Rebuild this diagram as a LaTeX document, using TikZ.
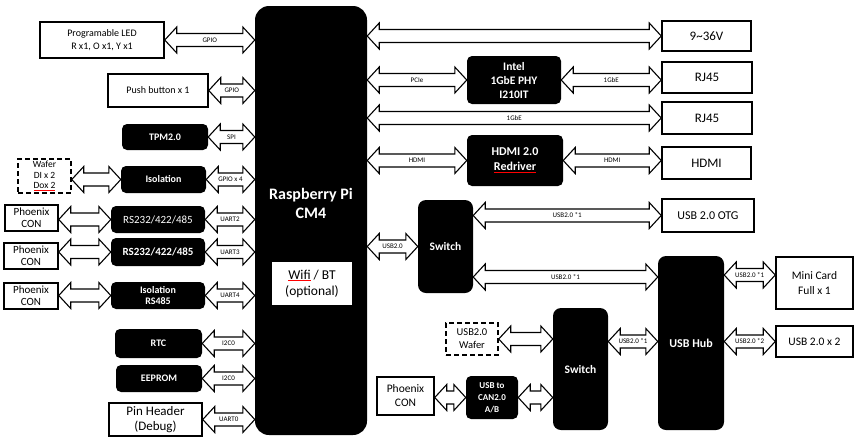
\documentclass[tikz,border=0pt]{standalone}
\usepackage{fontspec}
\setmainfont{Carlito}
\usepackage{xcolor}
\usepackage{tikz}
\usetikzlibrary{positioning, calc}

% hollow double arrow between two points on one horizontal line
\def\arhl{12pt}\def\arhh{13pt}\def\arsh{6.5pt}
\newcommand{\linkarrow}[3]{%
  \draw[biarr] let \p1=#1, \p2=#2 in
    (\x1,\y1) -- (\x1+\arhl,\y1+\arhh) -- (\x1+\arhl,\y1+\arsh) -- (\x2-\arhl,\y1+\arsh)
    -- (\x2-\arhl,\y1+\arhh) -- (\x2,\y1) -- (\x2-\arhl,\y1-\arhh) -- (\x2-\arhl,\y1-\arsh)
    -- (\x1+\arhl,\y1-\arsh) -- (\x1+\arhl,\y1-\arhh) -- cycle
    node[arrlabel] at ({0.5*\x1+0.5*\x2},\y1) {#3};}
\newcommand{\redul}[2][black]{{\color{red}\underline{\textcolor{#1}{#2}}}}

\begin{document}
\begin{tikzpicture}[x=1pt, y=-1pt,
  dims/.style 2 args={minimum width=#1pt, minimum height=#2pt},
  wbox/.style={draw, line width=1.5pt, fill=white, align=center, inner sep=1pt, font=\fontsize{10}{12.5}\selectfont},
  dbox/.style={wbox, dashed, dash pattern=on 5pt off 3pt},
  bbox/.style={fill=black, text=white, rounded corners=5pt, align=center, inner sep=1pt, font=\bfseries\fontsize{10}{12}\selectfont},
  biarr/.style={draw, fill=white, line width=1.1pt, line join=miter},
  arrlabel/.style={inner sep=0pt, font=\fontsize{7}{7}\selectfont}]
  \useasboundingbox (0,0) rectangle (856,440);

  % core module
  \node[bbox, dims={112}{429}, rounded corners=14pt] (cm4) at (311,220.5) {};
  \node[text=white, align=center, font=\bfseries\fontsize{16}{19}\selectfont] (cm4txt) at (311,203) {Raspberry Pi\\CM4};
  \node[fill=white, dims={80}{43}, align=center, inner sep=1pt, font=\fontsize{13.5}{16}\selectfont] (wifi) at (312,283.5) {\redul{Wifi} / BT\\(optional)};

  % left side
  \node[wbox, dims={124}{36}, font=\fontsize{10}{13}\selectfont] (led) at (102,40) {Programable LED\\R x1, O x1, Y x1};
  \node[wbox, dims={100}{33}] (button) at (158,90.5) {Push button x 1};
  \node[bbox, dims={86}{26}] (tpm) at (165,137) {TPM2.0};
  \node[dbox, dims={53}{34}, inner sep=0pt, font=\fontsize{9.5}{10.5}\selectfont] (wafer1) at (44.5,176) {Wafer\\DI x 2\\\redul{Dox 2}};
  \node[bbox, dims={85}{27}] (iso1) at (163.5,179.5) {Isolation};
  \node[wbox, dims={53}{26}, font=\fontsize{11}{12}\selectfont] (pcon1) at (31.5,218) {Phoenix\\CON};
  \node[bbox, dims={94}{27}, font=\fontsize{11}{12}\selectfont] (rs1) at (158,219.5) {RS232/422/485};
  \node[wbox, dims={54}{26}, font=\fontsize{11}{12}\selectfont] (pcon2) at (31,256) {Phoenix\\CON};
  \node[bbox, dims={94}{28}, font=\bfseries\fontsize{11}{12}\selectfont] (rs2) at (158,252) {RS232/422/485};
  \node[wbox, dims={54}{26}, font=\fontsize{11}{12}\selectfont] (pcon3) at (31,296) {Phoenix\\CON};
  \node[bbox, dims={94}{27}, font=\bfseries\fontsize{10}{11.5}\selectfont] (iso2) at (158,295.5) {Isolation\\RS485};
  \node[bbox, dims={87}{29}] (rtc) at (158.5,343.5) {RTC};
  \node[bbox, dims={86}{27}] (eeprom) at (159,378.5) {EEPROM};
  \node[wbox, dims={93}{33}, font=\fontsize{13}{15}\selectfont] (pin) at (155.5,419.5) {Pin Header\\(Debug)};

  % right side
  \node[wbox, dims={89}{30}, font=\fontsize{13}{15}\selectfont] (v936) at (706.5,36) {9\textasciitilde 36V};
  \node[bbox, dims={94}{48}, font=\bfseries\fontsize{11.5}{14}\selectfont] (phy) at (514,80) {Intel\\1GbE PHY\\I210IT};
  \node[wbox, dims={90}{31}, font=\fontsize{13}{15}\selectfont] (rj1) at (707,77.5) {RJ45};
  \node[wbox, dims={90}{32}, font=\fontsize{13}{15}\selectfont] (rj2) at (707,118) {RJ45};
  \node[bbox, dims={96}{51}, font=\bfseries\fontsize{12}{15}\selectfont] (hdmirx) at (515,160.5) {HDMI 2.0\\\redul[white]{Redriver}};
  \node[wbox, dims={89}{32}, font=\fontsize{13}{15}\selectfont] (hdmi) at (706.5,163) {HDMI};
  \node[bbox, dims={55}{93}, rounded corners=8pt, font=\bfseries\fontsize{11.5}{14}\selectfont] (sw1) at (445.5,246.5) {Switch};
  \node[wbox, dims={92}{33}, font=\fontsize{12}{14}\selectfont] (otg) at (708,215.5) {USB 2.0 OTG};
  \node[bbox, dims={66}{174}, rounded corners=8pt, font=\bfseries\fontsize{12}{14}\selectfont] (hub) at (691,343) {USB Hub};
  \node[wbox, dims={77}{52}, font=\fontsize{11.5}{15}\selectfont] (minicard) at (814.5,283) {Mini Card\\Full x 1};
  \node[wbox, dims={77}{31}, font=\fontsize{11.5}{14}\selectfont] (usb2x2) at (814.5,341.5) {USB 2.0 x 2};
  \node[bbox, dims={55}{122}, rounded corners=8pt, font=\bfseries\fontsize{11.5}{14}\selectfont] (sw2) at (580.5,369) {Switch};
  \node[dbox, dims={52}{32}, font=\fontsize{10.5}{13}\selectfont] (wafer2) at (472,339) {USB2.0\\Wafer};
  \node[wbox, dims={57}{38}, font=\fontsize{11.5}{14}\selectfont] (pcon4) at (405.5,396) {Phoenix\\CON};
  \node[bbox, dims={52}{43}, font=\bfseries\fontsize{9}{12}\selectfont] (can) at (492,397.5) {USB to\\CAN2.0\\A/B};

  \coordinate (hubin) at ($(sw1.east)+(0,30.5)$);
  \coordinate (mcin) at ($(minicard.west)+(0,-8)$);

  % left links
  \linkarrow{(led.east)}{(led.east -| cm4.west)}{GPIO}
  \linkarrow{(button.east)}{(button.east -| cm4.west)}{GPIO}
  \linkarrow{(tpm.east)}{(tpm.east -| cm4.west)}{SPI}
  \linkarrow{(iso1.west -| wafer1.east)}{(iso1.west)}{}
  \linkarrow{(iso1.east)}{(iso1.east -| cm4.west)}{GPIO x 4}
  \linkarrow{(rs1.west -| pcon1.east)}{(rs1.west)}{}
  \linkarrow{(rs1.east)}{(rs1.east -| cm4.west)}{UART2}
  \linkarrow{(rs2.west -| pcon2.east)}{(rs2.west)}{}
  \linkarrow{(rs2.east)}{(rs2.east -| cm4.west)}{UART3}
  \linkarrow{(iso2.west -| pcon3.east)}{(iso2.west)}{}
  \linkarrow{(iso2.east)}{(iso2.east -| cm4.west)}{UART4}
  \linkarrow{(rtc.east)}{(rtc.east -| cm4.west)}{I2C0}
  \linkarrow{(eeprom.east)}{(eeprom.east -| cm4.west)}{I2C0}
  \linkarrow{(pin.east)}{(pin.east -| cm4.west)}{UART0}

  % right links
  \linkarrow{(v936.west -| cm4.east)}{(v936.west)}{}
  \linkarrow{(phy.west -| cm4.east)}{(phy.west)}{PCIe}
  \linkarrow{(phy.east)}{(phy.east -| rj1.west)}{1GbE}
  \linkarrow{(rj2.west -| cm4.east)}{(rj2.west)}{1GbE}
  \linkarrow{(hdmirx.west -| cm4.east)}{(hdmirx.west)}{HDMI}
  \linkarrow{(hdmirx.east)}{(hdmirx.east -| hdmi.west)}{HDMI}
  \linkarrow{(sw1.west -| cm4.east)}{(sw1.west)}{USB2.0}
  \linkarrow{(otg.west -| sw1.east)}{(otg.west)}{USB2.0 *1}
  \linkarrow{(hubin)}{(hubin -| hub.west)}{USB2.0 *1}
  \linkarrow{(mcin -| hub.east)}{(mcin)}{USB2.0 *1}
  \linkarrow{(usb2x2.west -| hub.east)}{(usb2x2.west)}{USB2.0 *2}
  \linkarrow{(usb2x2.west -| sw2.east)}{(usb2x2.west -| hub.west)}{USB2.0 *1}
  \linkarrow{(wafer2.east)}{(wafer2.east -| sw2.west)}{}
  \linkarrow{(can.west -| pcon4.east)}{(can.west)}{}
  \linkarrow{(can.east)}{(can.east -| sw2.west)}{}
\end{tikzpicture}
\end{document}
